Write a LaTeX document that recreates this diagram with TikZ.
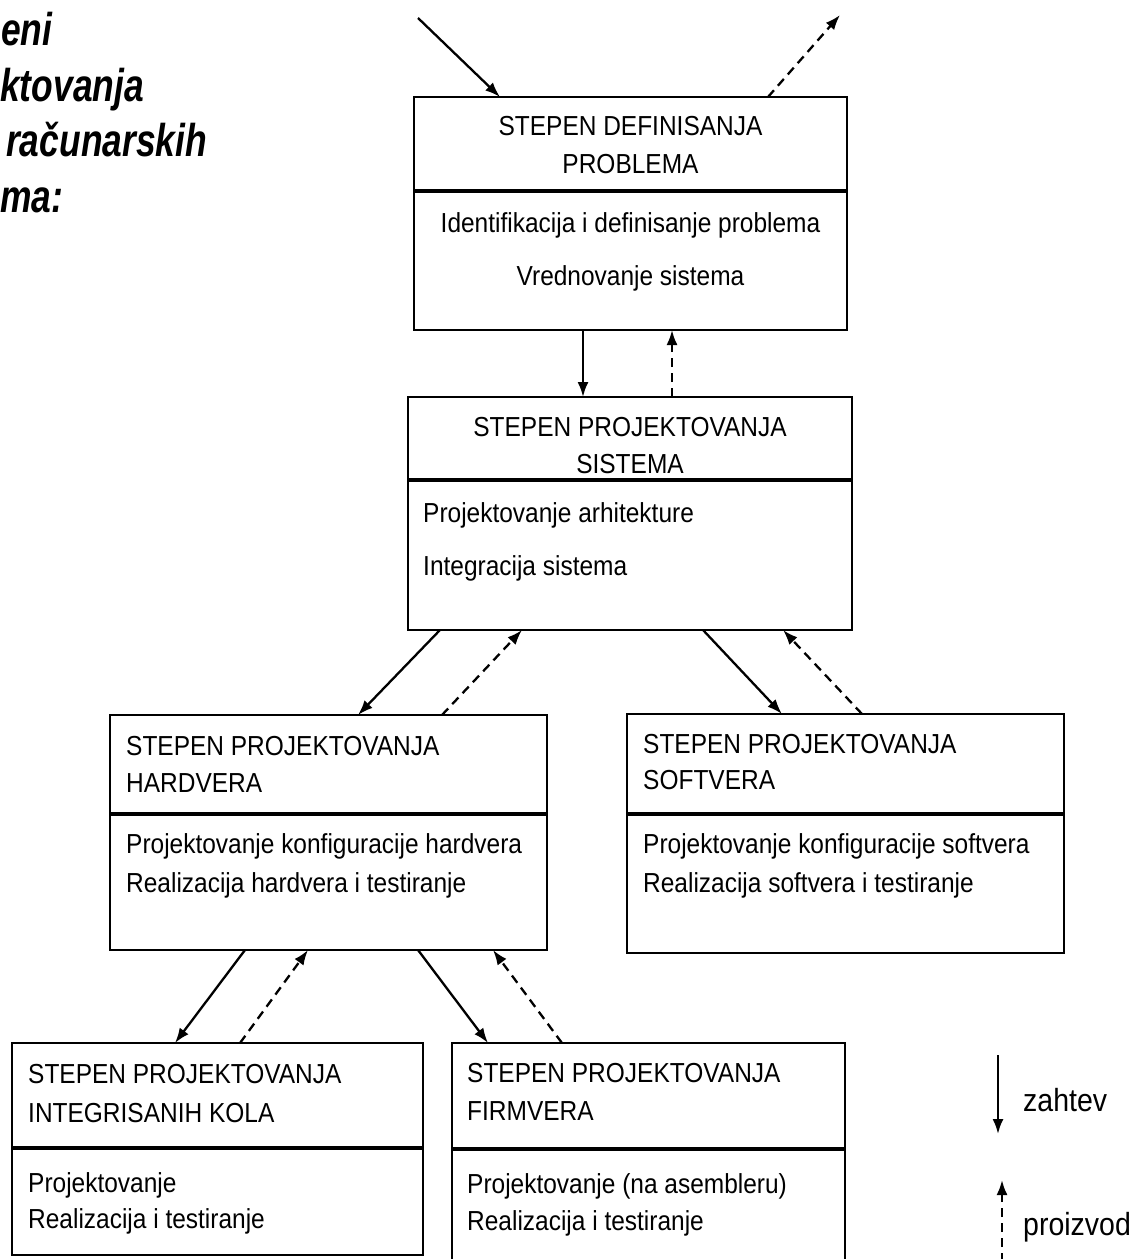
\documentclass[tikz,border=0pt]{standalone}
\usepackage{fontspec}
\usetikzlibrary{arrows.meta}
\newfontfamily\boxfont[FakeStretch=0.89]{Liberation Sans}
\newfontfamily\headfont[FakeStretch=0.77]{Liberation Sans}
\tikzset{
  part/.style={draw, line width=2.4pt, anchor=north west, inner sep=0pt, outer sep=0pt},
  txtl/.style={anchor=base west, inner sep=0pt, font=\boxfont\fontsize{27.5}{31}\selectfont},
  txtc/.style={anchor=base, inner sep=0pt, font=\boxfont\fontsize{27.5}{31}\selectfont},
  headtxt/.style={anchor=base west, inner sep=0pt, font=\headfont\bfseries\itshape\fontsize{46}{50}\selectfont},
  legtxt/.style={anchor=base west, inner sep=0pt, font=\boxfont\fontsize{32}{36}\selectfont},
  req/.style={line width=2.3pt, -{Latex[length=15pt,width=11pt]}},
  prod/.style={line width=2.3pt, dash pattern=on 9pt off 6pt, -{Latex[length=15pt,width=11pt]}}
}
\begin{document}
\begin{tikzpicture}[x=1pt, y=-1pt]
\useasboundingbox (0,0) rectangle (1137,1259);
\clip (0,0) rectangle (1137,1259);
\fill[white] (0,0) rectangle (1137,1259);

% heading (cut at the left edge)
\node[headtxt] (h1) at (1,45) {eni};
\node[headtxt] (h2) at (0,101) {ktovanja};
\node[headtxt] (h3) at (6,156) {računarskih};
\node[headtxt] (h4) at (0,212) {ma:};

% box 1: definisanje problema
\node[part, minimum width=433pt, minimum height=93pt] (b1t) at (414,97) {};
\node[part, minimum width=433pt, minimum height=138pt] (b1b) at (414,192) {};
\node[txtc] (b1l1) at (630.5,135) {STEPEN DEFINISANJA};
\node[txtc] (b1l2) at (630.5,173) {PROBLEMA};
\node[txtc] (b1l3) at (630.5,232) {Identifikacija i definisanje problema};
\node[txtc] (b1l4) at (630.5,285) {Vrednovanje sistema};

% box 2: projektovanje sistema
\node[part, minimum width=444pt, minimum height=82pt] (b2t) at (408,397) {};
\node[part, minimum width=444pt, minimum height=149pt] (b2b) at (408,481) {};
\node[txtc] (b2l1) at (630,436) {STEPEN PROJEKTOVANJA};
\node[txtc] (b2l2) at (630,473) {SISTEMA};
\node[txtl] (b2l3) at (423,522) {Projektovanje arhitekture};
\node[txtl] (b2l4) at (423,575) {Integracija sistema};

% box 3: hardver
\node[part, minimum width=437pt, minimum height=98pt] (b3t) at (110,715) {};
\node[part, minimum width=437pt, minimum height=135pt] (b3b) at (110,815) {};
\node[txtl] (b3l1) at (126,755) {STEPEN PROJEKTOVANJA};
\node[txtl] (b3l2) at (126,792) {HARDVERA};
\node[txtl] (b3l3) at (126,853) {Projektovanje konfiguracije hardvera};
\node[txtl] (b3l4) at (126,892) {Realizacija hardvera i testiranje};

% box 4: softver
\node[part, minimum width=437pt, minimum height=99pt] (b4t) at (627,714) {};
\node[part, minimum width=437pt, minimum height=138pt] (b4b) at (627,815) {};
\node[txtl] (b4l1) at (643,753) {STEPEN PROJEKTOVANJA};
\node[txtl] (b4l2) at (643,789) {SOFTVERA};
\node[txtl] (b4l3) at (643,853) {Projektovanje konfiguracije softvera};
\node[txtl] (b4l4) at (643,892) {Realizacija softvera i testiranje};

% box 5: integrisana kola
\node[part, minimum width=411pt, minimum height=104pt] (b5t) at (12,1043) {};
\node[part, minimum width=411pt, minimum height=106pt] (b5b) at (12,1149) {};
\node[txtl] (b5l1) at (28,1083) {STEPEN PROJEKTOVANJA};
\node[txtl] (b5l2) at (28,1122) {INTEGRISANIH KOLA};
\node[txtl] (b5l3) at (28,1192) {Projektovanje};
\node[txtl] (b5l4) at (28,1228) {Realizacija i testiranje};

% box 6: firmver
\node[part, minimum width=393pt, minimum height=105pt] (b6t) at (452,1043) {};
\node[part, minimum width=393pt, minimum height=120pt] (b6b) at (452,1150) {};
\node[txtl] (b6l1) at (467,1082) {STEPEN PROJEKTOVANJA};
\node[txtl] (b6l2) at (467,1120) {FIRMVERA};
\node[txtl] (b6l3) at (467,1193) {Projektovanje (na asembleru)};
\node[txtl] (b6l4) at (467,1230) {Realizacija i testiranje};

% free ends
\coordinate (inS) at (418,18);
\coordinate (outE) at (840,15);

% connectors
\draw[req] (inS) -- ([xshift=86pt]b1t.north west);
\draw[prod] ([xshift=354pt]b1t.north west) -- (outE);
\draw[req] ([xshift=169pt]b1b.south west) -- ([xshift=175pt]b2t.north west);
\draw[prod] ([xshift=264pt]b2t.north west) -- ([xshift=258pt]b1b.south west);
\draw[req] ([xshift=32pt]b2b.south west) -- ([xshift=248pt]b3t.north west);
\draw[prod] ([xshift=332pt]b3t.north west) -- ([xshift=114pt]b2b.south west);
\draw[req] ([xshift=295pt]b2b.south west) -- ([xshift=155pt]b4t.north west);
\draw[prod] ([xshift=235pt]b4t.north west) -- ([xshift=375pt]b2b.south west);
\draw[req] ([xshift=135pt]b3b.south west) -- ([xshift=163pt]b5t.north west);
\draw[prod] ([xshift=228pt]b5t.north west) -- ([xshift=198pt]b3b.south west);
\draw[req] ([xshift=308pt]b3b.south west) -- ([xshift=36pt]b6t.north west);
\draw[prod] ([xshift=110pt]b6t.north west) -- ([xshift=383pt]b3b.south west);

% legend
\coordinate (lg1a) at (998,1055);
\coordinate (lg1b) at (998,1134);
\coordinate (lg2a) at (1002,1262);
\coordinate (lg2b) at (1002,1180);
\draw[req] (lg1a) -- (lg1b);
\draw[prod] (lg2a) -- (lg2b);
\node[legtxt] (zah) at (1023,1111) {zahtev};
\node[legtxt] (pro) at (1023,1235) {proizvod};
\end{tikzpicture}
\end{document}
